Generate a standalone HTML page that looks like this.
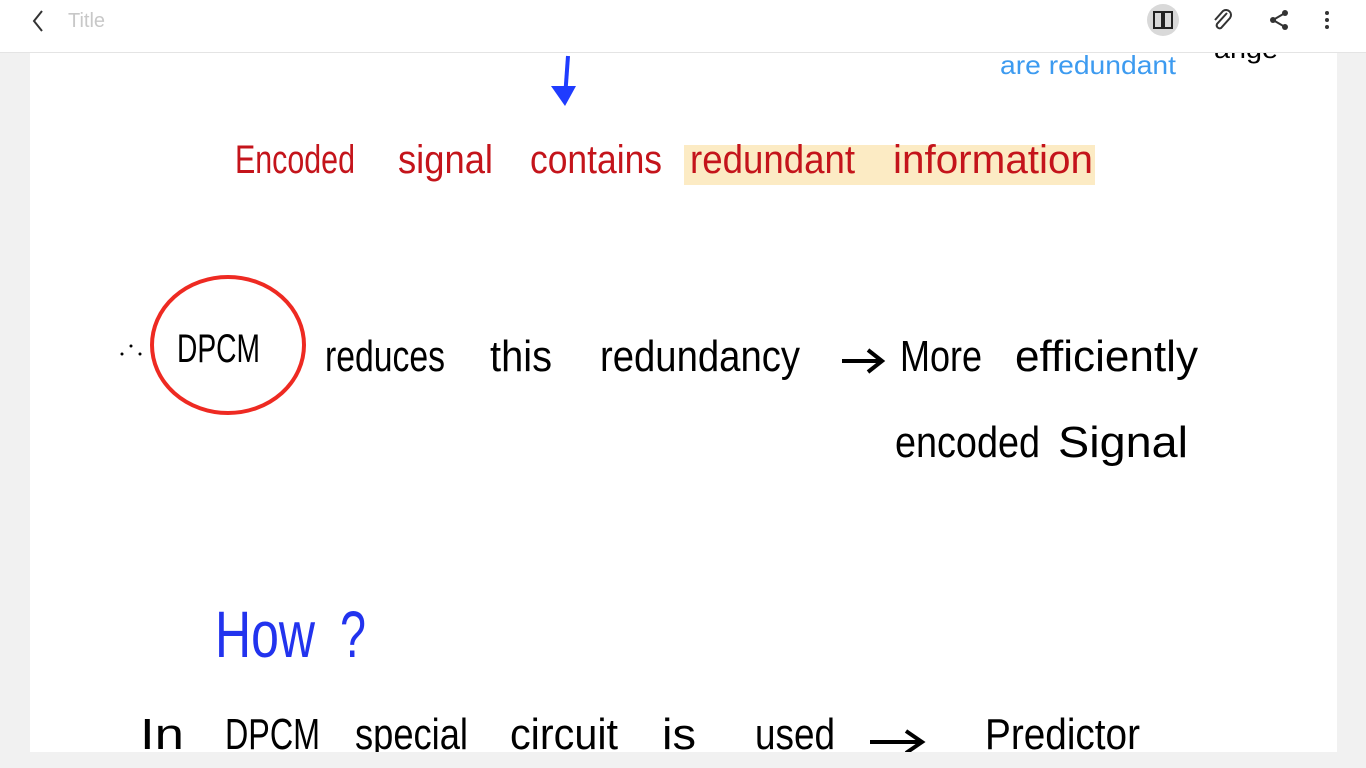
<!DOCTYPE html>
<html><head><meta charset="utf-8"><style>
body{margin:0;width:1366px;height:768px;background:#f1f1f1;overflow:hidden;position:relative;font-family:"Liberation Sans",sans-serif}
.bar{position:absolute;left:0;top:0;width:1366px;height:52px;background:#fff;border-bottom:1px solid #e4e4e4}
.page{position:absolute;left:30px;top:53px;width:1307px;height:699px;background:#fff}
.w{position:absolute;white-space:nowrap;transform-origin:0 0;display:block;overflow:visible}
.w span{display:inline-block;transform-origin:0 0}
.r{color:#c4141b;font-size:40px;top:138px}
.k{color:#000;font-size:44px}
</style></head><body>
<div class="page"></div>
<div class="w" style="left:1214px;top:34px;font-size:26px;color:#000"><span style="width:64px">ange</span></div>
<div class="bar">
 <svg style="position:absolute;left:28px;top:8px" width="20" height="26"><path d="M14 3 L6 13 L14 23" stroke="#333" stroke-width="2" fill="none"/></svg>
 <div style="position:absolute;left:68px;top:10px;font-size:20px;color:#c8c8c8">Title</div>
 <div style="position:absolute;left:1147px;top:4px;width:32px;height:32px;border-radius:16px;background:#d9d9d9"></div>
 <svg style="position:absolute;left:1152px;top:9px" width="22" height="22"><path d="M2 3h8v16H2zM12 3h8v16h-8z" stroke="#222" stroke-width="2" fill="none"/></svg>
 <svg style="position:absolute;left:1211px;top:8px" width="24" height="24"><path d="M16 5 L6 16 a3 3 0 0 0 4 4 L19 10 a5 5 0 0 0-7-7 L4 12" stroke="#333" stroke-width="2" fill="none"/></svg>
 <svg style="position:absolute;left:1268px;top:9px" width="22" height="22"><circle cx="17" cy="4" r="3" fill="#333"/><circle cx="5" cy="11" r="3" fill="#333"/><circle cx="17" cy="18" r="3" fill="#333"/><path d="M17 4 L5 11 L17 18" stroke="#333" stroke-width="2" fill="none"/></svg>
 <svg style="position:absolute;left:1322px;top:10px" width="10" height="22"><circle cx="5" cy="3" r="2" fill="#333"/><circle cx="5" cy="10" r="2" fill="#333"/><circle cx="5" cy="17" r="2" fill="#333"/></svg>
</div>
<div style="position:absolute;left:684px;top:145px;width:411px;height:40px;background:#fcebc4"></div>
<svg style="position:absolute;left:0;top:0" width="1366" height="768">
 <path d="M568 56 L565 98" stroke="#1f3cff" stroke-width="4" fill="none"/>
 <path d="M551 86 L565 106 L576 86 Z" fill="#1f3cff"/>
 <ellipse cx="228" cy="345" rx="76" ry="68" stroke="#ee2a22" stroke-width="4" fill="none"/>
 <circle cx="122" cy="354" r="1.5" fill="#000"/><circle cx="131" cy="346" r="1.5" fill="#000"/><circle cx="140" cy="354" r="1.5" fill="#000"/>
 <path d="M842 361 L880 361 M868 350 L882 361 L868 372" stroke="#000" stroke-width="4" fill="none"/>
 <path d="M870 742 L920 742 M906 731 L922 742 L906 753" stroke="#000" stroke-width="4" fill="none"/>
</svg>
<div class="w" style="left:1000px;top:50px;font-size:26px;color:#3d9bf0"><span style="width:176px">are redundant</span></div>

<div class="w r" style="left:235px"><span style="width:120px">Encoded</span></div>
<div class="w r" style="left:398px"><span style="width:95px">signal</span></div>
<div class="w r" style="left:530px"><span style="width:132px">contains</span></div>
<div class="w r" style="left:690px"><span style="width:165px">redundant</span></div>
<div class="w r" style="left:893px"><span style="width:200px">information</span></div>

<div class="w k" style="left:177px;top:327px;font-size:40px"><span style="width:83px">DPCM</span></div>
<div class="w k" style="left:325px;top:332px"><span style="width:120px">reduces</span></div>
<div class="w k" style="left:490px;top:332px"><span style="width:62px">this</span></div>
<div class="w k" style="left:600px;top:332px"><span style="width:200px">redundancy</span></div>
<div class="w k" style="left:900px;top:332px"><span style="width:82px">More</span></div>
<div class="w k" style="left:1015px;top:332px"><span style="width:183px">efficiently</span></div>
<div class="w k" style="left:895px;top:418px"><span style="width:145px">encoded</span></div>
<div class="w k" style="left:1058px;top:418px"><span style="width:130px">Signal</span></div>

<div class="w" style="left:215px;top:596px;font-size:66px;color:#2233ee"><span style="width:100px">How</span></div>
<div class="w" style="left:340px;top:596px;font-size:66px;color:#2233ee"><span style="width:26px">?</span></div>

<div class="w k" style="left:140px;top:710px"><span style="width:44px">In</span></div>
<div class="w k" style="left:225px;top:710px"><span style="width:95px">DPCM</span></div>
<div class="w k" style="left:355px;top:710px"><span style="width:113px">special</span></div>
<div class="w k" style="left:510px;top:710px"><span style="width:108px">circuit</span></div>
<div class="w k" style="left:662px;top:710px"><span style="width:34px">is</span></div>
<div class="w k" style="left:755px;top:710px"><span style="width:80px">used</span></div>
<div class="w k" style="left:985px;top:710px"><span style="width:155px">Predictor</span></div>
<div style="position:absolute;left:0;top:752px;width:1366px;height:16px;background:#f1f1f1"></div>
<script>
document.querySelectorAll('.w span').forEach(function(s){
 var target=parseFloat(s.style.width);s.style.width='auto';
 var w=s.getBoundingClientRect().width;
 if(w>0)s.style.transform='scaleX('+(target/w)+')';
});
</script>
</body></html>
